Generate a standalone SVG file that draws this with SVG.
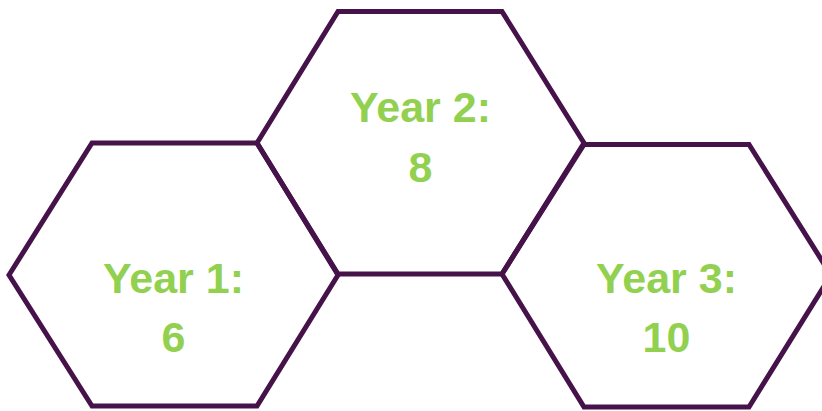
<svg xmlns="http://www.w3.org/2000/svg" width="822" height="411" viewBox="0 0 822 411">
<style>
.hex{fill:none;stroke:#46124a;stroke-width:5;stroke-linejoin:miter}
.lbl{font-family:"Liberation Sans",Arial,sans-serif;font-weight:bold;font-size:43px;fill:#92d050;text-anchor:middle}
</style>
<rect width="822" height="411" fill="#ffffff"/>
<g id="hex1">
<polygon class="hex" points="9,275 92,143 257,143 338,275 257,406 92,406"/>
<text class="lbl" x="173.5" y="293">Year 1:</text>
<text class="lbl" x="173.5" y="352">6</text>
</g>
<g id="hex2">
<polygon class="hex" points="257,143 338,11.5 502,11.5 584,143 502,274 338,274"/>
<text class="lbl" x="420.5" y="122">Year 2:</text>
<text class="lbl" x="420.5" y="182">8</text>
</g>
<g id="hex3">
<polygon class="hex" points="502,274 584,144.5 749,144.5 831,275 749,407 584,407"/>
<text class="lbl" x="666.5" y="293">Year 3:</text>
<text class="lbl" x="666.5" y="352">10</text>
</g>
<g id="connectors"></g>
</svg>
